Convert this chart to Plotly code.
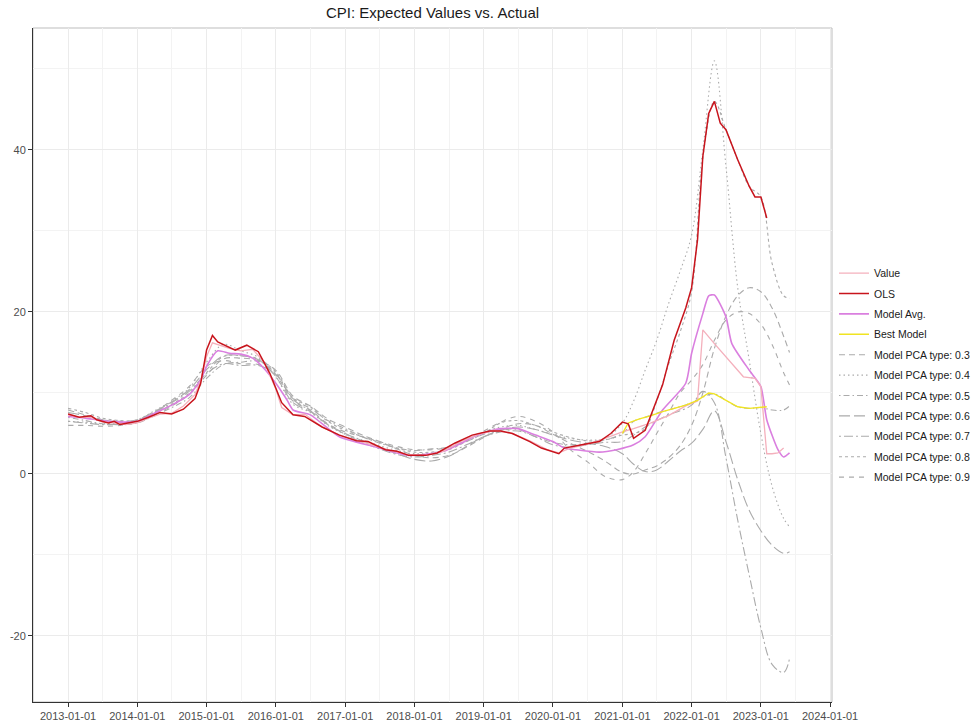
import pandas as pd
import plotly.graph_objects as go

# ---------------- data ----------------
OLS_DATES = ["2013-01","2013-03","2013-05","2013-06","2013-08","2013-09","2013-10","2013-12",
             "2014-01","2014-03","2014-05","2014-07","2014-09","2014-11","2014-12",
             "2015-01","2015-02","2015-03","2015-05","2015-06","2015-08","2015-10","2015-12",
             "2016-02","2016-04","2016-06","2016-09","2016-12","2017-03","2017-05","2017-08",
             "2017-10","2017-12","2018-03","2018-05","2018-08","2018-11","2019-02","2019-04",
             "2019-06","2019-09","2019-11","2020-02","2020-03","2020-06","2020-09","2020-11",
             "2021-01","2021-02","2021-03","2021-05","2021-07","2021-08","2021-10","2021-12",
             "2022-01","2022-02","2022-03","2022-04","2022-05","2022-06","2022-07","2022-09",
             "2022-11","2022-12","2023-01","2023-02"]
OLS_VALUES = [7.4,7.0,7.2,6.7,6.3,6.5,6.1,6.4,
              6.5,7.0,7.6,7.4,8.0,9.3,11.2,
              15.3,17.1,16.3,15.7,15.3,15.9,15.1,12.4,
              8.8,7.3,7.1,5.8,4.8,4.1,4.0,3.0,
              2.8,2.3,2.3,2.6,3.8,4.8,5.3,5.3,
              5.0,4.0,3.2,2.5,3.2,3.6,4.0,5.0,
              6.4,6.2,4.4,5.4,9.1,11.0,16.5,20.5,
              23.0,28.9,39.2,44.5,46.0,43.3,42.5,38.8,
              35.5,34.2,34.2,31.6]

VALUE_DATES = ["2013-01","2013-03","2013-05","2013-07","2013-09","2013-11","2014-01","2014-03",
               "2014-05","2014-07","2014-09","2014-11","2014-12","2015-01","2015-02","2015-03",
               "2015-05","2015-07","2015-09","2015-11","2016-01","2016-02","2016-04","2016-06",
               "2016-09","2016-12","2017-03","2017-06","2017-09","2017-12","2018-03","2018-06",
               "2018-09","2018-12","2019-03","2019-06","2019-09","2019-12","2020-02","2020-04",
               "2020-07","2020-10","2021-01","2021-03","2021-06","2021-09","2021-12","2022-02",
               "2022-03","2022-05","2022-07","2022-10","2022-12","2023-01","2023-02","2023-03",
               "2023-04","2023-05"]
VALUE_VALUES = [7.3,7.0,7.0,6.4,6.3,6.1,6.3,6.9,
                7.4,7.5,8.4,9.8,11.5,14.5,16.2,16.0,
                15.5,15.2,15.4,13.8,10.5,8.2,7.3,7.4,
                5.8,4.8,4.2,3.6,2.9,2.4,2.3,2.8,
                4.0,4.9,5.4,5.0,4.1,3.0,2.6,3.2,
                3.7,4.4,5.2,5.6,6.3,7.2,8.4,9.0,
                17.8,16.1,14.5,12.0,11.8,10.8,2.5,2.5,
                2.6,3.2]

AVG_DATES = ["2013-01","2013-04","2013-08","2014-01","2014-04","2014-07","2014-10","2014-12",
             "2015-01","2015-03","2015-05","2015-07","2015-09","2015-11","2016-01","2016-03",
             "2016-04","2016-07","2016-12","2017-06","2017-12","2018-06","2018-12","2019-04",
             "2019-07","2019-10","2020-01","2020-03","2020-05","2020-09","2020-12","2021-03",
             "2021-05","2021-08","2021-12","2022-01","2022-03","2022-04","2022-05","2022-07",
             "2022-08","2022-11","2023-01","2023-02","2023-04","2023-05","2023-06"]
AVG_VALUES = [7.1,6.9,6.5,6.5,7.5,8.5,9.8,11.6,
              13.3,15.2,14.9,14.8,14.3,13.0,11.2,9.1,
              7.9,7.3,4.6,3.4,2.3,2.8,4.8,5.6,
              5.6,4.8,4.0,3.2,3.0,2.7,3.0,3.6,
              4.6,7.9,11.2,14.9,19.8,22.0,22.1,19.4,
              16.1,12.8,10.8,6.7,3.0,2.1,2.6]

BEST_DATES = ["2021-01","2021-02","2021-04","2021-06","2021-08","2021-10","2021-12","2022-02",
              "2022-04","2022-05","2022-07","2022-09","2022-11","2023-01","2023-02"]
BEST_VALUES = [5.0,6.3,6.8,7.2,7.7,8.1,8.5,9.1,
               10.0,9.9,9.1,8.3,8.1,8.2,8.3]

MODEL_DATES = ["2013-01","2013-04","2013-07","2013-10","2014-01","2014-04","2014-07","2014-10",
               "2015-01","2015-04","2015-07","2015-10","2016-01","2016-04","2016-07","2016-10",
               "2017-01","2017-04","2017-07","2017-10","2018-01","2018-04","2018-07","2018-10",
               "2019-01","2019-04","2019-07","2019-10","2020-01","2020-04","2020-07","2020-10",
               "2021-01","2021-03","2021-05","2021-07","2021-09","2021-11","2022-01","2022-03",
               "2022-05","2022-07","2022-09","2022-11","2023-01","2023-03","2023-05","2023-06"]
PCA_03 = [7.9,7.3,6.7,6.4, 6.4,7.3,8.4,9.8, 12.2,14.2,14.3,14.0, 12.8,9.6,8.4,6.8,
          5.8,4.8,4.0,3.1, 2.3,2.0,2.3,3.3, 4.5,5.5,6.2,6.0, 4.9,3.8,2.8,1.6,
          0.2,0.0,0.5,1.0,2.0,3.5, 6.0,10.0,15.5,19.5,22.0,23.0, 22.5,20.5,17.0,15.0]
PCA_04 = [6.5,6.4,6.2,6.3, 6.7,7.8,9.0,10.6, 13.8,16.0,15.2,14.4, 12.0,8.6,7.6,6.0,
          4.9,4.2,3.5,2.9, 2.5,2.6,3.1,4.2, 5.2,5.8,6.0,5.5, 4.9,4.4,4.2,4.4,
          6.3,9.0,12.8,16.5,21.0,25.0, 29.5,40.0,51.0,38.0,23.0,14.0, 5.0,-1.5,-5.5,-6.5]
PCA_05 = [7.0,6.6,6.2,6.1, 6.3,7.2,8.2,9.4, 11.8,13.5,13.8,13.9, 12.4,9.3,8.1,6.6,
          5.6,4.6,3.8,3.2, 2.9,3.1,3.3,4.0, 4.9,5.4,5.5,4.6, 3.9,3.6,3.8,4.2,
          5.0,6.5,7.0,7.5,7.9,8.3, 8.8,9.5,9.9,9.1,8.3,8.1, 8.2,7.9,7.9,8.4]
PCA_06 = [7.6,7.2,6.7,6.5, 6.7,7.7,8.9,10.4, 12.9,14.6,14.6,14.1, 12.0,8.8,7.7,6.1,
          5.0,4.1,3.3,2.5, 1.8,1.6,2.2,3.4, 4.6,5.4,5.8,5.5, 4.8,4.2,3.8,3.4,
          2.5,1.2,0.3,0.5,1.6,2.8, 3.8,5.5,7.8,4.0,-0.7,-4.5, -7.0,-8.8,-9.8,-9.6]
PCA_07 = [6.5,6.3,6.1,6.2, 6.6,7.6,8.8,10.2, 12.4,13.6,13.4,13.4, 12.3,9.2,7.8,6.1,
          4.9,3.9,3.1,2.4, 2.1,2.3,2.7,3.6, 4.6,5.2,5.3,4.6, 3.6,3.3,3.6,3.9,
          4.0,4.8,5.8,6.6,7.3,7.8, 8.5,10.2,8.8,2.0,-5.7,-12.5, -19.0,-23.5,-24.5,-22.8]
PCA_08 = [8.1,7.6,6.9,6.6, 6.6,7.5,8.6,10.0, 12.5,14.5,14.6,14.2, 12.6,9.4,8.3,6.5,
          5.4,4.6,3.9,3.2, 2.7,2.7,3.0,4.0, 5.0,6.3,6.6,6.0, 5.2,4.5,4.1,4.2,
          4.8,5.0,5.6,9.0,13.5,17.5, 22.5,39.0,46.0,42.5,38.8,35.5, 34.2,26.0,22.0,21.7]
PCA_09 = [6.0,6.0,5.9,6.0, 6.4,7.6,9.1,10.8, 13.3,14.0,13.6,13.5, 12.2,9.0,7.9,6.2,
          5.2,4.6,4.0,3.4, 3.0,3.0,3.3,4.3, 5.3,6.4,7.1,6.5, 5.2,3.0,1.5,-0.3,
          -0.7,0.3,2.5,5.0,7.5,10.0, 11.6,13.5,16.5,19.0,20.0,19.8, 18.5,16.0,12.5,11.0]

PCA_LABELS = ["0.3", "0.4", "0.5", "0.6", "0.7", "0.8", "0.9"]
PCA_SERIES = [PCA_03, PCA_04, PCA_05, PCA_06, PCA_07, PCA_08, PCA_09]

X_TICK_DATES = ["2013-01-01","2014-01-01","2015-01-01","2016-01-01","2017-01-01","2018-01-01",
                "2019-01-01","2020-01-01","2021-01-01","2022-01-01","2023-01-01","2024-01-01"]
X_MINOR_DATES = ["2012-07-02","2013-07-02","2014-07-02","2015-07-02","2016-07-02","2017-07-02",
                 "2018-07-02","2019-07-02","2020-07-02","2021-07-02","2022-07-02","2023-07-02"]
Y_TICKS = [-20, 0, 20, 40]
Y_MINOR = [-10, 10, 30, 50]

# ---------------- styles ----------------
GRAY = "#ABABAB"
PCA_DASHES = ["6px,4px", "1.5px,3px", "1.5px,3px,6px,3px", "11px,4px",
              "2px,3px,9px,3px", "3px,3px", "5px,5px"]
FIG_W, FIG_H = 974, 725


def d(lst):
    return pd.to_datetime(lst, format="%Y-%m")


fig = go.Figure()

for i, (lab, vals) in enumerate(zip(PCA_LABELS, PCA_SERIES)):
    name = f"Model PCA type: {lab}"
    fig.add_trace(go.Scatter(
        x=d(MODEL_DATES), y=vals, mode="lines", name=name,
        line=dict(color=GRAY, width=1.1, dash=PCA_DASHES[i], shape="spline", smoothing=1.0),
        legendgroup=name, legendrank=5 + i))

fig.add_trace(go.Scatter(x=d(AVG_DATES), y=AVG_VALUES, mode="lines", name="Model Avg.",
                         line=dict(color="#DA7FDF", width=1.6, shape="spline", smoothing=0.6),
                         legendgroup="Model Avg.", legendrank=3))
fig.add_trace(go.Scatter(x=d(VALUE_DATES), y=VALUE_VALUES, mode="lines", name="Value",
                         line=dict(color="#F4B0BC", width=1.3),
                         legendgroup="Value", legendrank=1))
fig.add_trace(go.Scatter(x=d(BEST_DATES), y=BEST_VALUES, mode="lines", name="Best Model",
                         line=dict(color="#F0E422", width=1.4),
                         legendgroup="Best Model", legendrank=4))
fig.add_trace(go.Scatter(x=d(OLS_DATES), y=OLS_VALUES, mode="lines", name="OLS",
                         line=dict(color="#C8141C", width=1.5),
                         legendgroup="OLS", legendrank=2))

TICKFONT = dict(family="Liberation Sans, Arial, sans-serif", size=11, color="#4D4D4D")

fig.update_xaxes(
    type="date", range=["2012-06-30", "2024-01-11"],
    tickvals=X_TICK_DATES, ticktext=X_TICK_DATES,
    ticks="outside", ticklen=4, tickwidth=1, tickcolor="#333333",
    showline=True, linecolor="#333333", linewidth=1,
    showgrid=True, gridcolor="#EBEBEB", gridwidth=1,
    minor=dict(tickvals=X_MINOR_DATES, showgrid=True, gridcolor="#F3F3F3", gridwidth=0.6, ticks=""),
    tickfont=TICKFONT, zeroline=False)
fig.update_yaxes(
    range=[-28.15, 55.06], tickvals=Y_TICKS, ticktext=[str(v) for v in Y_TICKS],
    ticks="outside", ticklen=4, tickwidth=1, tickcolor="#333333",
    showline=True, linecolor="#333333", linewidth=1,
    showgrid=True, gridcolor="#EBEBEB", gridwidth=1,
    minor=dict(tickvals=Y_MINOR, showgrid=True, gridcolor="#F3F3F3", gridwidth=0.6, ticks=""),
    tickfont=TICKFONT, zeroline=False)

fig.add_shape(type="rect", xref="paper", yref="paper", x0=0, x1=1, y0=0, y1=1,
              line=dict(color="#BDBDBD", width=1), layer="below")

fig.update_layout(
    width=FIG_W, height=FIG_H,
    margin=dict(l=33, r=142, t=28, b=23, autoexpand=False),
    plot_bgcolor="white", paper_bgcolor="white",
    font=dict(family="Liberation Sans, Arial, sans-serif", color="#1A1A1A"),
    title=dict(text="CPI: Expected Values vs. Actual", x=0.5, xref="paper", xanchor="center",
               y=1 - 13 / FIG_H, yref="container", yanchor="middle",
               font=dict(size=15, color="#1A1A1A")),
    showlegend=True,
    legend=dict(x=1.0025, xanchor="left", y=0.485, yanchor="middle", xref="paper", yref="paper",
                font=dict(size=10.5, color="#1A1A1A"), itemwidth=30, tracegroupgap=1.4,
                bgcolor="rgba(0,0,0,0)", borderwidth=0),
)

# remove the default 8px page margin so the figure sits at the window's top-left corner
fig.write_html("out.html", config={"displayModeBar": False},
               post_script="document.body.style.margin='0';")
